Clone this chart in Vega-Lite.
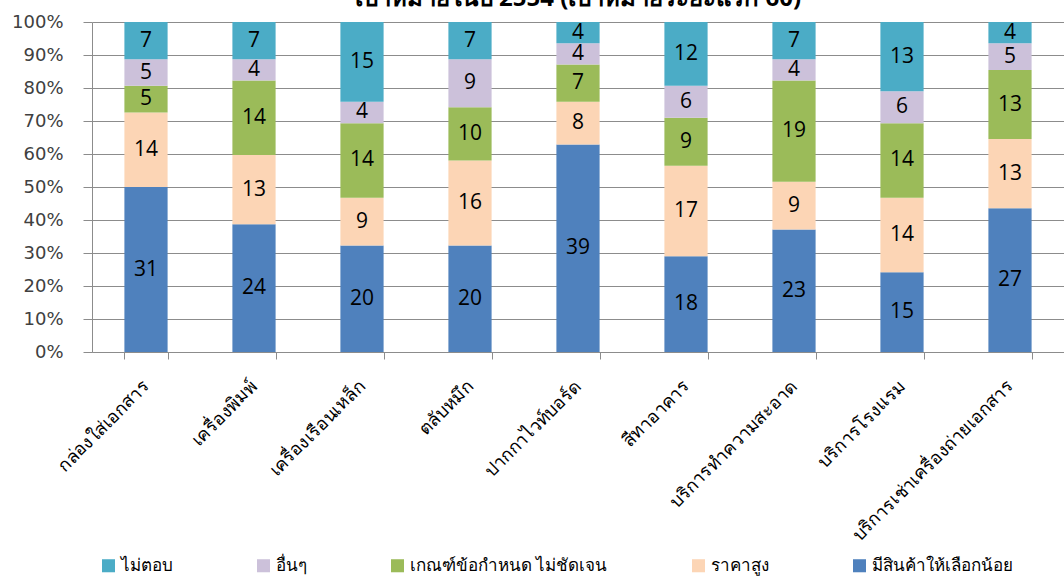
{
  "$schema": "https://vega.github.io/schema/vega-lite/v6.json",
  "autosize": {"type": "none"},
  "width": 972,
  "height": 330,
  "padding": {"left": 92, "top": 22, "right": 0, "bottom": 228},
  "background": "white",
  "title": {"text": "เป้าหมายในปี 2554 (เป้าหมายระยะแรก 60)", "fontSize": 24, "font": "Noto Sans", "fontWeight": "bold", "color": "black", "anchor": "middle", "offset": 0, "dy": -2},
  "config": {"view": {"stroke": null}, "font": "Noto Sans"},
  "data": {"values": [
    {"cat": "กล่องใส่เอกสาร", "series": "มีสินค้าให้เลือกน้อย", "n": 31},
    {"cat": "กล่องใส่เอกสาร", "series": "ราคาสูง", "n": 14},
    {"cat": "กล่องใส่เอกสาร", "series": "เกณฑ์ข้อกำหนด ไม่ชัดเจน", "n": 5},
    {"cat": "กล่องใส่เอกสาร", "series": "อื่นๆ", "n": 5},
    {"cat": "กล่องใส่เอกสาร", "series": "ไม่ตอบ", "n": 7},
    {"cat": "เครื่องพิมพ์", "series": "มีสินค้าให้เลือกน้อย", "n": 24},
    {"cat": "เครื่องพิมพ์", "series": "ราคาสูง", "n": 13},
    {"cat": "เครื่องพิมพ์", "series": "เกณฑ์ข้อกำหนด ไม่ชัดเจน", "n": 14},
    {"cat": "เครื่องพิมพ์", "series": "อื่นๆ", "n": 4},
    {"cat": "เครื่องพิมพ์", "series": "ไม่ตอบ", "n": 7},
    {"cat": "เครื่องเรือนเหล็ก", "series": "มีสินค้าให้เลือกน้อย", "n": 20},
    {"cat": "เครื่องเรือนเหล็ก", "series": "ราคาสูง", "n": 9},
    {"cat": "เครื่องเรือนเหล็ก", "series": "เกณฑ์ข้อกำหนด ไม่ชัดเจน", "n": 14},
    {"cat": "เครื่องเรือนเหล็ก", "series": "อื่นๆ", "n": 4},
    {"cat": "เครื่องเรือนเหล็ก", "series": "ไม่ตอบ", "n": 15},
    {"cat": "ตลับหมึก", "series": "มีสินค้าให้เลือกน้อย", "n": 20},
    {"cat": "ตลับหมึก", "series": "ราคาสูง", "n": 16},
    {"cat": "ตลับหมึก", "series": "เกณฑ์ข้อกำหนด ไม่ชัดเจน", "n": 10},
    {"cat": "ตลับหมึก", "series": "อื่นๆ", "n": 9},
    {"cat": "ตลับหมึก", "series": "ไม่ตอบ", "n": 7},
    {"cat": "ปากกาไวท์บอร์ด", "series": "มีสินค้าให้เลือกน้อย", "n": 39},
    {"cat": "ปากกาไวท์บอร์ด", "series": "ราคาสูง", "n": 8},
    {"cat": "ปากกาไวท์บอร์ด", "series": "เกณฑ์ข้อกำหนด ไม่ชัดเจน", "n": 7},
    {"cat": "ปากกาไวท์บอร์ด", "series": "อื่นๆ", "n": 4},
    {"cat": "ปากกาไวท์บอร์ด", "series": "ไม่ตอบ", "n": 4},
    {"cat": "สีทาอาคาร", "series": "มีสินค้าให้เลือกน้อย", "n": 18},
    {"cat": "สีทาอาคาร", "series": "ราคาสูง", "n": 17},
    {"cat": "สีทาอาคาร", "series": "เกณฑ์ข้อกำหนด ไม่ชัดเจน", "n": 9},
    {"cat": "สีทาอาคาร", "series": "อื่นๆ", "n": 6},
    {"cat": "สีทาอาคาร", "series": "ไม่ตอบ", "n": 12},
    {"cat": "บริการทำความสะอาด", "series": "มีสินค้าให้เลือกน้อย", "n": 23},
    {"cat": "บริการทำความสะอาด", "series": "ราคาสูง", "n": 9},
    {"cat": "บริการทำความสะอาด", "series": "เกณฑ์ข้อกำหนด ไม่ชัดเจน", "n": 19},
    {"cat": "บริการทำความสะอาด", "series": "อื่นๆ", "n": 4},
    {"cat": "บริการทำความสะอาด", "series": "ไม่ตอบ", "n": 7},
    {"cat": "บริการโรงแรม", "series": "มีสินค้าให้เลือกน้อย", "n": 15},
    {"cat": "บริการโรงแรม", "series": "ราคาสูง", "n": 14},
    {"cat": "บริการโรงแรม", "series": "เกณฑ์ข้อกำหนด ไม่ชัดเจน", "n": 14},
    {"cat": "บริการโรงแรม", "series": "อื่นๆ", "n": 6},
    {"cat": "บริการโรงแรม", "series": "ไม่ตอบ", "n": 13},
    {"cat": "บริการเช่าเครื่องถ่ายเอกสาร", "series": "มีสินค้าให้เลือกน้อย", "n": 27},
    {"cat": "บริการเช่าเครื่องถ่ายเอกสาร", "series": "ราคาสูง", "n": 13},
    {"cat": "บริการเช่าเครื่องถ่ายเอกสาร", "series": "เกณฑ์ข้อกำหนด ไม่ชัดเจน", "n": 13},
    {"cat": "บริการเช่าเครื่องถ่ายเอกสาร", "series": "อื่นๆ", "n": 5},
    {"cat": "บริการเช่าเครื่องถ่ายเอกสาร", "series": "ไม่ตอบ", "n": 4}
  ]},
  "transform": [
    {"calculate": "indexof(['มีสินค้าให้เลือกน้อย', 'ราคาสูง', 'เกณฑ์ข้อกำหนด ไม่ชัดเจน', 'อื่นๆ', 'ไม่ตอบ'], datum.series)", "as": "stackOrder"}
  ],
  "encoding": {
    "x": {
      "field": "cat", "type": "nominal", "sort": null,
      "scale": {"paddingInner": 0.6, "paddingOuter": 0.3},
      "axis": {"title": null, "labelAngle": -45, "labelFontSize": 18, "labelColor": "black", "labelFont": "Noto Sans", "domainColor": "#8c8c8c", "tickColor": "#8c8c8c", "tickSize": 7, "tickBand": "extent", "labelPadding": 18, "labelOffset": -6, "labelLimit": 400}
    },
    "y": {
      "field": "n", "type": "quantitative", "aggregate": "sum", "stack": "normalize",
      "axis": {"title": null, "format": ".0%", "values": [0,0.1,0.2,0.3,0.4,0.5,0.6,0.7,0.8,0.9,1], "labelOverlap": false, "labelFontSize": 18, "labelColor": "#404040", "labelPadding": 20, "tickSize": 9, "tickColor": "#8c8c8c", "gridColor": "#8c8c8c", "domainColor": "#8c8c8c", "labelFont": "DejaVu Sans"}
    },
    "order": {"field": "stackOrder", "type": "quantitative", "aggregate": "min"}
  },
  "layer": [
    {
      "mark": {"type": "bar"},
      "encoding": {
        "color": {
          "field": "series", "type": "nominal",
          "scale": {"domain": ["ไม่ตอบ", "อื่นๆ", "เกณฑ์ข้อกำหนด ไม่ชัดเจน", "ราคาสูง", "มีสินค้าให้เลือกน้อย"], "range": ["#4BACC6", "#CCC1DA", "#9BBB59", "#FCD5B5", "#4F81BD"]},
          "legend": {"title": null, "orient": "none", "legendX": 8, "legendY": 535, "direction": "horizontal", "columns": 5, "columnPadding": 82, "symbolType": "square", "symbolSize": 170, "symbolStrokeWidth": 0, "labelFontSize": 17, "labelColor": "black", "labelFont": "Noto Sans", "labelLimit": 400}
        }
      }
    },
    {
      "mark": {"type": "text", "fontSize": 21, "color": "black", "baseline": "middle", "font": "Open Sans"},
      "encoding": {
        "y": {"field": "n", "type": "quantitative", "aggregate": "sum", "stack": "normalize", "bandPosition": 0.5},
        "detail": {"field": "series", "type": "nominal"},
        "text": {"field": "n", "type": "quantitative", "aggregate": "sum"}
      }
    }
  ]
}
